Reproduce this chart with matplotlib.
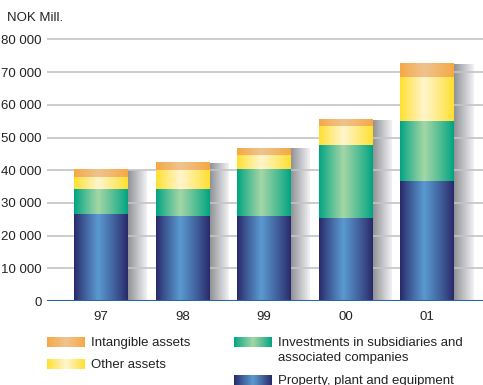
import numpy as np
import matplotlib.pyplot as plt
from matplotlib.colors import to_rgb

plt.rcParams['font.family'] = ['Liberation Sans', 'DejaVu Sans']

years = ['97', '98', '99', '00', '01']
ppe = [26600, 26000, 26000, 25400, 36700]
investments = [7650, 8250, 14400, 22300, 18300]
other = [3650, 5800, 4300, 5800, 13500]
intangible = [2150, 2150, 2100, 1850, 4000]

yticks = [0, 10000, 20000, 30000, 40000, 50000, 60000, 70000, 80000]
ytick_labels = ['0', '10 000', '20 000', '30 000', '40 000', '50 000',
                '60 000', '70 000', '80 000']

# (edge colour, centre colour) for the shaded fills
ppe_col = ('#29296a', '#5a9ad0')
inv_col = ('#00a482', '#a4d6a6')
other_col = ('#ffdf2e', '#fff5cc')
intang_col = ('#f6a843', '#efc38e')
text_col = '#222222'


def gradient(edge, centre, n=64, peak=0.45):
    t = np.linspace(0, 1, n)
    w = np.interp(t, [0, peak, 1], [0, 1, 0]) ** 0.9
    e = np.array(to_rgb(edge))
    c = np.array(to_rgb(centre))
    img = e[None, :] * (1 - w[:, None]) + c[None, :] * w[:, None]
    return img[None, :, :]


def shadow_grad(n=64):
    t = np.linspace(0, 1, n)
    a = np.array(to_rgb('#909296'))
    b = np.array(to_rgb('#f2f2f4'))
    img = a[None, :] * (1 - t[:, None]) + b[None, :] * t[:, None]
    return img[None, :, :]


W, H = 483, 385
fig = plt.figure(figsize=(W / 100, H / 100), dpi=100)

px_per_unit = (301 - 39.5) / 80000
ymax = 82000
ax_top_px = 301 - ymax * px_per_unit
ax = fig.add_axes([47 / W, (H - 301) / H, 1 - 47 / W, (301 - ax_top_px) / H])

spacing = 81.5
x0 = (47 - 101) / spacing
x1 = (483 - 101) / spacing
ax.set_xlim(x0, x1)
ax.set_ylim(0, ymax)

bw = 54 / spacing
sw = 19 / spacing

for y in yticks[1:]:
    ax.axhline(y, color='#c4c4c4', lw=1.2, zorder=2)

for i in range(len(years)):
    left = i - bw / 2
    bottom = 0
    total = ppe[i] + investments[i] + other[i] + intangible[i]
    ax.imshow(shadow_grad(), extent=(left + bw, left + bw + sw, 0, total),
              aspect='auto', interpolation='bilinear', zorder=1)
    for vals, col in [(ppe, ppe_col), (investments, inv_col),
                      (other, other_col), (intangible, intang_col)]:
        ax.imshow(gradient(*col), extent=(left, left + bw, bottom, bottom + vals[i]),
                  aspect='auto', interpolation='bilinear', zorder=3)
        bottom += vals[i]

ax.axhline(0, color='#2566a8', lw=1.5, zorder=4)

ax.set_yticks(yticks)
ax.set_yticklabels(ytick_labels, fontsize=9.5, color=text_col)
ax.set_xticks(range(len(years)))
ax.set_xticklabels(years, fontsize=9.5, color=text_col)
ax.tick_params(length=0, pad=4)
ax.tick_params(axis='x', pad=7.5)
for s in ax.spines.values():
    s.set_visible(False)

fig.text(7 / W, 1 - 18 / H, 'NOK Mill.', fontsize=9.5, color=text_col,
         va='center', ha='left')

# legend drawn on a pixel-space overlay
lg = fig.add_axes([0, 0, 1, 1], zorder=5)
lg.set_xlim(0, W)
lg.set_ylim(H, 0)
lg.axis('off')
lg.patch.set_alpha(0)

legend_items = [
    (47, 342, intang_col, 'Intangible assets'),
    (47, 364, other_col, 'Other assets'),
    (234, 342, inv_col, 'Investments in subsidiaries and\nassociated companies'),
    (234, 380, ppe_col, 'Property, plant and equipment'),
]
for lx, ly, col, label in legend_items:
    lg.imshow(gradient(*col, peak=0.5), extent=(lx, lx + 38, ly + 4.7, ly - 4.7),
              aspect='auto', interpolation='bilinear')
    lg.text(lx + 44, ly - 5, label, fontsize=9.5, color=text_col,
            va='top', ha='left', linespacing=1.3)

lg.set_xlim(0, W)
lg.set_ylim(H, 0)

fig.savefig('out.png', dpi=100)
